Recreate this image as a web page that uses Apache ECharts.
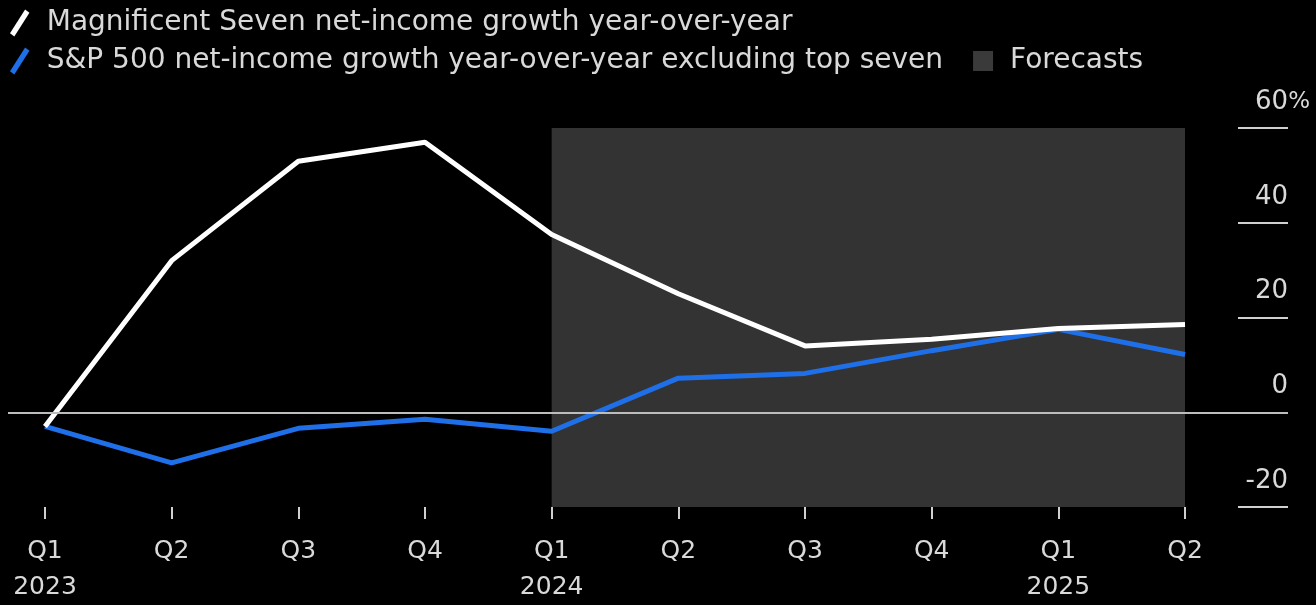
<!DOCTYPE html>
<html>
<head>
<meta charset="utf-8">
<script src="https://cdn.jsdelivr.net/npm/echarts@6/dist/echarts.min.js"></script>
<style>
  html, body { margin: 0; padding: 0; background: #000; }
  #chart { width: 1316px; height: 605px; }
</style>
</head>
<body>
<div id="chart"></div>
<script>
// Quarterly net-income growth, year over year (%)
const categories = ['Q1 2023', 'Q2 2023', 'Q3 2023', 'Q4 2023', 'Q1 2024',
                    'Q2 2024', 'Q3 2024', 'Q4 2024', 'Q1 2025', 'Q2 2025'];
const tickLabels = ['Q1\n2023', 'Q2', 'Q3', 'Q4', 'Q1\n2024', 'Q2', 'Q3', 'Q4', 'Q1\n2025', 'Q2'];
const magSeven = [-3, 32, 53, 57, 37.5, 25, 14, 15.4, 17.7, 18.5];
const spxExTop7 = [-3, -10.7, -3.4, -1.5, -4, 7.2, 8.2, 13, 17.5, 12.2];
const forecastStart = 'Q1 2024';
const forecastEnd = 'Q2 2025';
const yTicks = [-20, 0, 20, 40, 60];

const seriesNames = [
  'Magnificent Seven net-income growth year-over-year',
  'S&P 500 net-income growth year-over-year excluding top seven',
  'Forecasts'
];

// x runs over category indices; the extra room on both sides holds the zero rule and y ticks
const xMin = -0.292;
const xMax = 9.813;
const idx = categories.map((_, i) => i);
const toPairs = arr => arr.map((v, i) => [i, v]);

const slashIcon = 'path://M14,0 L18,3 L4,25 L0,22 Z';
const squareIcon = 'path://M0,0 L18,0 L18,18 L0,18 Z';
const textColor = '#d9d9d9';
const font = '"DejaVu Sans", "Noto Sans", sans-serif';
const pctWidth = 22;

const legendCommon = {
  left: 10,
  padding: 0,
  itemWidth: 20, itemHeight: 27, itemGap: 30,
  textStyle: { color: textColor, fontSize: 28, fontFamily: font, padding: [0, 0, 0, 12] },
  selectedMode: false
};

const chart = echarts.init(document.getElementById('chart'), null, { renderer: 'canvas' });

chart.setOption({
  backgroundColor: '#000',
  animation: false,
  legend: [
    Object.assign({ top: 9, data: [{ name: seriesNames[0], icon: slashIcon }] }, legendCommon),
    Object.assign({
      top: 47,
      data: [{ name: seriesNames[1], icon: slashIcon }, { name: seriesNames[2], icon: squareIcon }]
    }, legendCommon)
  ],
  grid: { left: 8, right: 28, top: 128, bottom: 97, containLabel: false },
  xAxis: {
    type: 'value',
    min: xMin,
    max: xMax,
    axisLine: { show: false, onZero: false },
    splitLine: { show: false },
    axisTick: {
      show: true, length: 12, customValues: idx,
      lineStyle: { color: '#cfcfcf', width: 2 }
    },
    axisLabel: {
      customValues: idx,
      formatter: v => tickLabels[Math.round(v)],
      color: textColor, fontSize: 25, fontFamily: font,
      lineHeight: 36, margin: 26
    }
  },
  yAxis: {
    type: 'value',
    position: 'right',
    min: yTicks[0],
    max: yTicks[yTicks.length - 1],
    interval: 20,
    axisLine: { show: false, onZero: false },
    splitLine: { show: false },
    axisTick: { show: true, inside: true, length: 50, lineStyle: { color: '#cfcfcf', width: 2 } },
    axisLabel: {
      align: 'right',
      verticalAlign: 'middle',
      margin: pctWidth,
      padding: [0, 0, 52, 0],
      color: textColor, fontSize: 26, fontFamily: font,
      formatter: v => v === yTicks[yTicks.length - 1] ? v + '{p|%}' : v + '{p|}',
      rich: { p: { width: pctWidth, color: textColor, fontSize: 23, fontFamily: font } }
    }
  },
  series: [
    {
      name: seriesNames[2],
      type: 'line',
      data: [],
      z: 1,
      itemStyle: { color: '#3a3a3a' },
      lineStyle: { color: '#3a3a3a' },
      markArea: {
        silent: true,
        itemStyle: { color: '#333333' },
        data: [[
          { xAxis: categories.indexOf(forecastStart), yAxis: yTicks[0] },
          { xAxis: categories.indexOf(forecastEnd), yAxis: yTicks[yTicks.length - 1] }
        ]]
      }
    },
    {
      name: seriesNames[1],
      type: 'line',
      data: toPairs(spxExTop7),
      z: 3,
      symbol: 'none',
      lineStyle: { color: '#1f6fe8', width: 5 },
      itemStyle: { color: '#1f6fe8' },
      markLine: {
        silent: true,
        symbol: 'none',
        label: { show: false },
        lineStyle: { color: '#bdbdbd', width: 2, type: 'solid' },
        data: [[{ coord: [xMin, 0] }, { coord: [xMax, 0] }]]
      }
    },
    {
      name: seriesNames[0],
      type: 'line',
      data: toPairs(magSeven),
      z: 4,
      symbol: 'none',
      lineStyle: { color: '#ffffff', width: 5 },
      itemStyle: { color: '#ffffff' }
    }
  ]
});
</script>
</body>
</html>
